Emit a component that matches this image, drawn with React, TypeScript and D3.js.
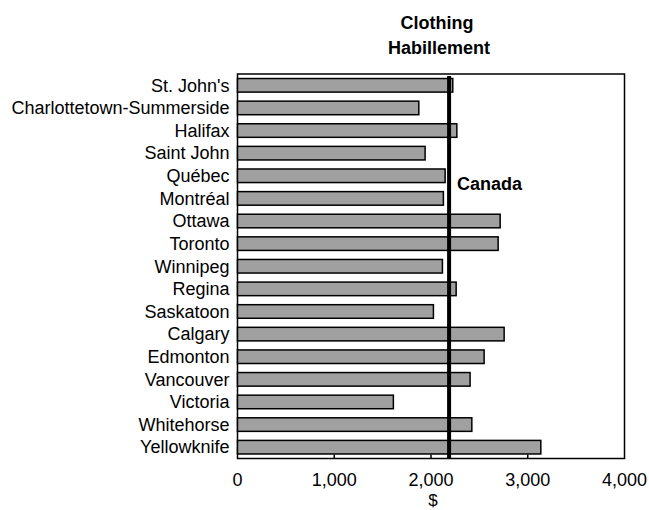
import { useEffect, useRef } from "react"
import * as d3 from "d3"

const cities = [
  "St. John's",
  "Charlottetown-Summerside",
  "Halifax",
  "Saint John",
  "Québec",
  "Montréal",
  "Ottawa",
  "Toronto",
  "Winnipeg",
  "Regina",
  "Saskatoon",
  "Calgary",
  "Edmonton",
  "Vancouver",
  "Victoria",
  "Whitehorse",
  "Yellowknife",
]
const clothing = [2225, 1874, 2267, 1939, 2146, 2128, 2715, 2694, 2118, 2260, 2025, 2756, 2549, 2404, 1611, 2422, 3135]
const canadaAverage = 2187
const xTicks = [0, 1000, 2000, 3000, 4000]

const App = () => {
  const svgRef = useRef<SVGSVGElement>(null)

  useEffect(() => {
    if (!svgRef.current) return
    const svg = d3.select(svgRef.current)
    svg.selectAll("*").remove()

    const font = "Liberation Sans, Arial, sans-serif"
    const left = 237.5
    const right = 624.5
    const top = 74
    const bottom = 458.5

    const x = d3.scaleLinear().domain([0, 4000]).range([left, right])
    const y = d3.scaleBand().domain(cities).range([top, bottom]).paddingInner(0.4).paddingOuter(0.2)

    // title
    svg.append("text")
      .attr("x", 437)
      .attr("y", 29)
      .attr("text-anchor", "middle")
      .attr("font-family", font)
      .attr("font-weight", "bold")
      .attr("font-size", 18)
      .text("Clothing")
    svg.append("text")
      .attr("x", 439)
      .attr("y", 54)
      .attr("text-anchor", "middle")
      .attr("font-family", font)
      .attr("font-weight", "bold")
      .attr("font-size", 18)
      .text("Habillement")

    // plot frame
    svg.append("rect")
      .attr("x", left)
      .attr("y", top)
      .attr("width", right - left)
      .attr("height", bottom - top)
      .attr("fill", "white")
      .attr("stroke", "black")
      .attr("stroke-width", 1.5)

    // bars
    svg.append("g")
      .selectAll("rect")
      .data(clothing)
      .enter()
      .append("rect")
      .attr("x", x(0))
      .attr("y", (_, i) => y(cities[i]) || 0)
      .attr("width", (d) => x(d) - x(0))
      .attr("height", y.bandwidth())
      .attr("fill", "#a0a0a0")
      .attr("stroke", "black")
      .attr("stroke-width", 1.5)

    // ticks on bottom edge
    svg.append("g")
      .selectAll("line")
      .data(xTicks.slice(1, -1))
      .enter()
      .append("line")
      .attr("x1", (d) => x(d))
      .attr("x2", (d) => x(d))
      .attr("y1", bottom)
      .attr("y2", bottom - 4)
      .attr("stroke", "black")
      .attr("stroke-width", 1.5)

    // x tick labels
    svg.append("g")
      .selectAll("text")
      .data(xTicks)
      .enter()
      .append("text")
      .attr("x", (d) => x(d))
      .attr("y", 486)
      .attr("text-anchor", "middle")
      .attr("font-family", font)
      .attr("font-size", 18)
      .text((d) => d3.format(",")(d))

    svg.append("text")
      .attr("x", x(2000) + 2)
      .attr("y", 506)
      .attr("text-anchor", "middle")
      .attr("font-family", font)
      .attr("font-size", 17)
      .text("$")

    // category labels
    svg.append("g")
      .selectAll("text")
      .data(cities)
      .enter()
      .append("text")
      .attr("x", left - 8)
      .attr("y", (d) => (y(d) || 0) + y.bandwidth() / 2)
      .attr("dy", "0.35em")
      .attr("text-anchor", "end")
      .attr("font-family", font)
      .attr("font-size", 18)
      .text((d) => d)

    // Canada line
    svg.append("line")
      .attr("x1", x(canadaAverage))
      .attr("x2", x(canadaAverage))
      .attr("y1", top + 2)
      .attr("y2", bottom)
      .attr("stroke", "black")
      .attr("stroke-width", 4)

    svg.append("text")
      .attr("x", x(canadaAverage) + 8)
      .attr("y", 190)
      .attr("font-family", font)
      .attr("font-weight", "bold")
      .attr("font-size", 18)
      .text("Canada")
  }, [])

  return <svg ref={svgRef} width={649} height={510} style={{ position: "absolute", left: 0, top: 0 }} />
}

export default App
